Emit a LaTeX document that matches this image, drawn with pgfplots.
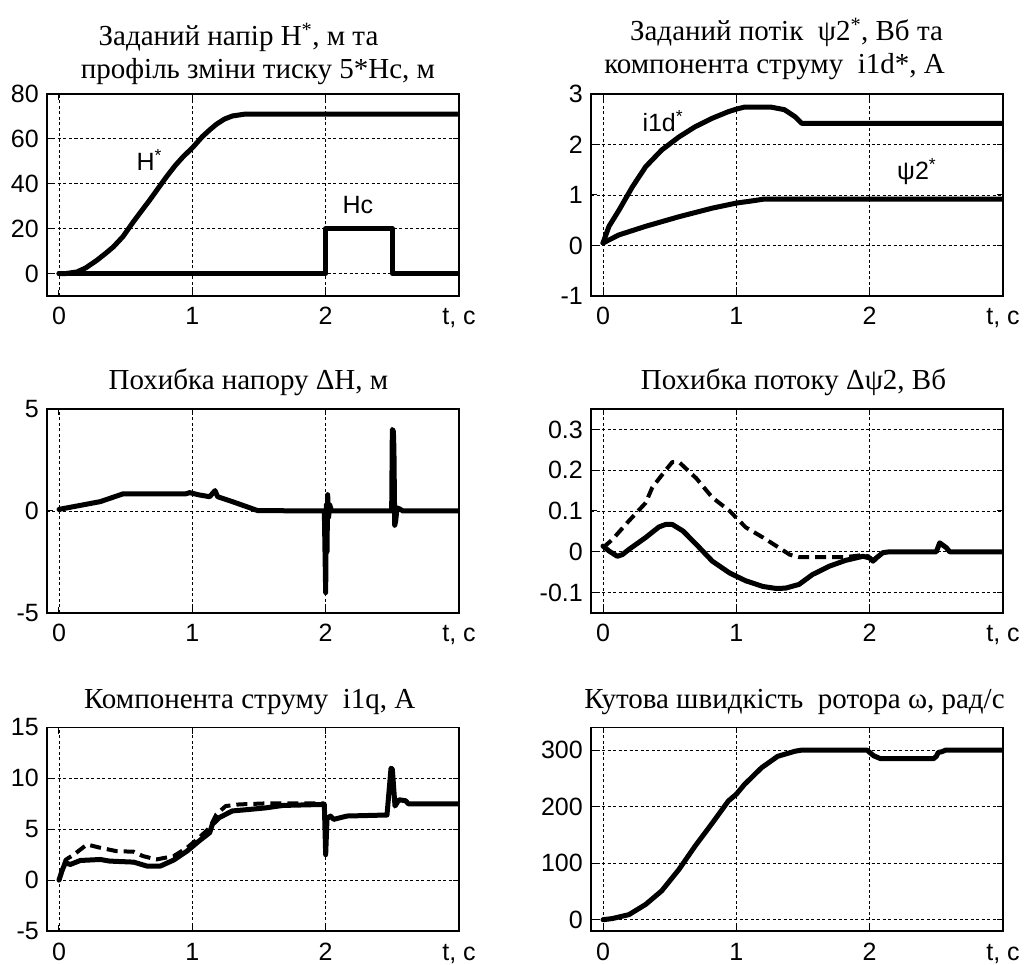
\documentclass[border=0pt]{standalone}
\usepackage{fontspec}
\setmainfont{Liberation Serif}
\newfontfamily\arial{Liberation Sans}
\usepackage{pgfplots}
\pgfplotsset{compat=1.18}

\newcommand\tickfont{\arial\fontsize{25}{30}\selectfont}
\newcommand\ttlfont{\fontsize{29}{34}\selectfont}

\pgfplotsset{
  mat/.style={
    scale only axis, width=412pt,
    xmin=-0.09, xmax=3,
    xtick={0,1,2,3}, xticklabels={0,1,2,{t, c}},
    grid=major,
    major grid style={black, line width=0.9pt, dash pattern=on 3pt off 2.5pt},
    axis line style={line width=1.3pt},
    tick align=inside, major tick length=6pt,
    tick style={line width=1pt, black},
    ticklabel style={font=\tickfont, inner sep=0pt},
    /pgf/number format/assume math mode=true,
    xticklabel style={anchor=base, yshift=-29pt},
    yticklabel style={anchor=east, xshift=-8pt},
  },
  crv/.style={black, line width=5pt, line join=round, line cap=round, mark=none},
  dsh/.style={line width=4pt, dash pattern=on 11pt off 6pt, line cap=butt},
}

\begin{document}
\begin{tikzpicture}
\path[use as bounding box] (0,0) rectangle (1025pt,964pt);

% ---- top left
\begin{axis}[mat, name=a1, at={(47pt,668pt)}, anchor=south west, height=202pt,
  ymin=-10, ymax=80, ytick={0,20,40,60,80}]
\addplot[crv] coordinates {(0,0) (0.05,0) (0.134,0.7) (0.2,2.5) (0.284,5.9) (0.35,9)
  (0.408,11.9) (0.48,16.5) (0.557,23) (0.62,28) (0.68,32.7) (0.75,38.5) (0.806,43.1)
  (0.87,48) (0.93,52) (1.0,56) (1.075,61) (1.13,64) (1.18,66.5) (1.24,68.8)
  (1.30,70.2) (1.39,71) (3,71)};
\addplot[crv] coordinates {(0,0) (2,0) (2,20) (2.5,20) (2.5,0) (3,0)};
\node[anchor=base west, font=\tickfont] at (axis cs:0.556,46) {H\textsuperscript{*}};
\node[anchor=base west, font=\tickfont] at (axis cs:2.1,26.8) {Hc};
\end{axis}
\node[anchor=base, font=\ttlfont] at ([xshift=-14.5pt, yshift=48.3pt]a1.north) {Заданий напір H\textsuperscript{*}, м та};
\node[anchor=base, font=\ttlfont] at ([xshift=5pt, yshift=15pt]a1.north) {профіль зміни тиску 5*Нс, м};

% ---- top right
\begin{axis}[mat, name=a2, at={(591pt,668pt)}, anchor=south west, height=202pt,
  ymin=-1, ymax=3, ytick={-1,0,1,2,3}]
\addplot[crv] coordinates {(0,0.05) (0.045,0.38) (0.12,0.7) (0.22,1.16) (0.32,1.56)
  (0.44,1.89) (0.57,2.15) (0.69,2.35) (0.82,2.52) (0.94,2.65) (1,2.7) (1.06,2.74)
  (1.26,2.74) (1.36,2.69) (1.44,2.55) (1.49,2.42) (3,2.42)};
\addplot[crv] coordinates {(0,0.05) (0.12,0.21) (0.32,0.38) (0.57,0.57) (0.82,0.74)
  (1,0.84) (1.11,0.88) (1.21,0.92) (3,0.92)};
\node[anchor=base west, font=\tickfont] at (axis cs:0.27,2.25) {i1d\textsuperscript{*}};
\node[anchor=base west, font=\tickfont] at (axis cs:2.18,1.30) {ψ2\textsuperscript{*}};
\end{axis}
\node[anchor=base, font=\ttlfont] at ([xshift=-10.5pt, yshift=53.3pt]a2.north) {Заданий потік\ \ ψ2\textsuperscript{*}, Вб та};
\node[anchor=base, font=\ttlfont] at ([xshift=-22.5pt, yshift=20pt]a2.north) {компонента струму\ \ i1d*, А};

% ---- middle left
\begin{axis}[mat, name=a3, at={(47pt,351pt)}, anchor=south west, height=204pt,
  ymin=-5, ymax=5, ytick={-5,0,5}]
\addplot[crv] coordinates {(0,0.08) (0.18,0.3) (0.31,0.46) (0.48,0.84) (0.95,0.84)
  (0.98,0.9) (1.05,0.79) (1.13,0.7) (1.17,1.0) (1.19,0.7) (1.3,0.46) (1.43,0.16)
  (1.49,0.02) (1.99,0) (2.0,-4.0) (2.005,0.3) (2.01,-2) (2.015,0.8) (2.022,-0.3)
  (2.03,0.3) (2.045,0) (2.495,0) (2.5,4.0) (2.508,3.9) (2.512,3.0) (2.518,-0.7)
  (2.525,-0.5) (2.535,0.15) (2.555,0.1) (2.58,0) (3,0)};
\end{axis}
\node[anchor=base, font=\ttlfont] at ([xshift=-4.5pt, yshift=19.3pt]a3.north) {Похибка напору ΔН, м};

% ---- middle right
\begin{axis}[mat, name=a4, at={(591pt,351pt)}, anchor=south west, height=204pt,
  ymin=-0.15, ymax=0.35, ytick={-0.1,0,0.1,0.2,0.3}]
\addplot[crv, dsh] coordinates {(0,0.01) (0.07,0.03) (0.195,0.076) (0.32,0.12) (0.37,0.158)
  (0.47,0.2) (0.52,0.22) (0.57,0.22) (0.7,0.18) (0.82,0.133) (0.95,0.1) (1.07,0.06)
  (1.2,0.035) (1.32,0.01) (1.4,-0.007) (1.47,-0.013) (1.82,-0.013) (1.95,-0.008)
  (2.0,-0.012)};
\addplot[crv] coordinates {(0,0.014) (0.045,0.002) (0.107,-0.011) (0.145,-0.007)
  (0.195,0.006) (0.32,0.035) (0.42,0.061) (0.47,0.067) (0.52,0.067) (0.6,0.051)
  (0.7,0.018) (0.82,-0.023) (0.95,-0.052) (1.07,-0.071) (1.2,-0.085) (1.3,-0.09)
  (1.37,-0.089) (1.47,-0.08) (1.57,-0.056) (1.7,-0.035) (1.82,-0.021) (1.95,-0.011)
  (2.0,-0.015) (2.025,-0.023) (2.05,-0.015) (2.1,-0.002) (2.15,0) (2.5,0)
  (2.525,0.022) (2.575,0.01) (2.6,0) (3,0)};
\end{axis}
\node[anchor=base, font=\ttlfont] at ([xshift=-3.5pt, yshift=19.3pt]a4.north) {Похибка потоку Δψ2, Вб};

% ---- bottom left
\begin{axis}[mat, name=a5, at={(47pt,33pt)}, anchor=south west, height=203.5pt,
  ymin=-5, ymax=15, ytick={-5,0,5,10,15}]
\addplot[crv, dsh] coordinates {(0,0) (0.05,2.0) (0.11,2.5) (0.21,3.5) (0.31,3.18)
  (0.43,2.85) (0.56,2.79) (0.63,2.36) (0.73,2.03) (0.86,2.36) (0.96,3.18) (1.05,4.16)
  (1.13,5.15) (1.18,6.46) (1.25,7.28) (1.35,7.44) (1.55,7.54) (1.99,7.54)};
\addplot[crv] coordinates {(0,0) (0.022,0.9) (0.047,1.7) (0.085,1.54) (0.16,1.93)
  (0.31,2.03) (0.38,1.87) (0.56,1.77) (0.66,1.38) (0.76,1.38) (0.86,1.97) (0.96,2.85)
  (1.05,3.84) (1.13,4.66) (1.15,5.48) (1.2,6.13) (1.3,6.8) (1.43,6.95) (1.55,7.1)
  (1.68,7.34) (1.99,7.44) (2.0,2.5) (2.01,6.0) (2.035,6.3) (2.06,5.97) (2.16,6.3)
  (2.46,6.4) (2.49,11.0) (2.5,10.9) (2.52,7.28) (2.55,7.9) (2.6,7.8) (2.62,7.5)
  (3,7.5)};
\end{axis}
\node[anchor=base, font=\ttlfont] at ([xshift=-3.3pt, yshift=19pt]a5.north) {Компонента струму\ \ i1q, А};

% ---- bottom right
\begin{axis}[mat, name=a6, at={(591pt,33pt)}, anchor=south west, height=203.5pt,
  ymin=-20, ymax=340, ytick={0,100,200,300}]
\addplot[crv] coordinates {(0,0) (0.07,2) (0.195,9) (0.32,27) (0.44,51) (0.57,89)
  (0.69,130) (0.82,171) (0.94,210) (1,222) (1.06,239) (1.19,269) (1.31,289)
  (1.44,298) (1.49,300) (1.98,300) (2.03,290) (2.08,285) (2.48,285) (2.5,289)
  (2.515,296) (2.54,297) (2.57,300) (3,300)};
\end{axis}
\node[anchor=base, font=\ttlfont] at ([xshift=-2.5pt, yshift=19pt]a6.north) {Кутова швидкість\ \ ротора ω, рад/с};
\end{tikzpicture}
\end{document}
